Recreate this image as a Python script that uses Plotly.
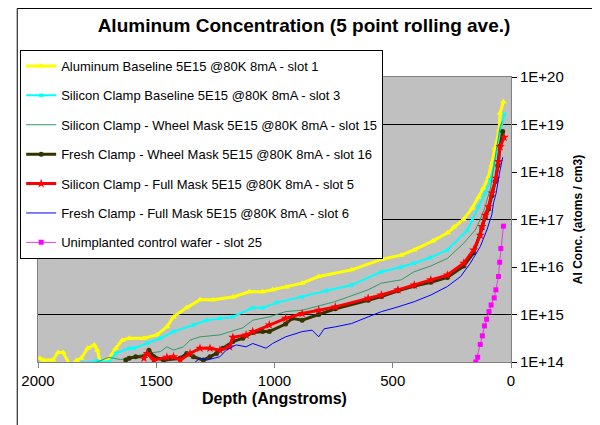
import plotly.graph_objects as go

# depth (Angstroms) and log10 of Al concentration (atoms / cm3)
yellow_depth = [32, 46, 50, 67, 81, 95, 117, 137, 164, 201, 242, 268, 330, 410, 464, 548, 674, 813, 883, 950,
                1008, 1050, 1106, 1176, 1259, 1315, 1372, 1427, 1455, 1497, 1552, 1615, 1644, 1671, 1699, 1720,
                1735, 1749, 1762, 1790, 1817, 1838, 1860, 1894, 1915, 1937, 1979, 1992]
yellow_log = [19.48, 19.24, 18.88, 18.5, 18.15, 17.9, 17.66, 17.47, 17.24, 17.0, 16.84, 16.72, 16.55, 16.36, 16.25,
              16.16, 15.94, 15.8, 15.66, 15.58, 15.52, 15.48, 15.48, 15.37, 15.31, 15.31, 15.14, 14.95, 14.74,
              14.57, 14.5, 14.5, 14.46, 14.29, 14.08, 14.0, 13.95, 14.25, 14.36, 14.29, 14.08, 14.03, 13.9, 14.2,
              14.2, 14.04, 14.04, 14.08]

cyan_depth = [28, 46, 54, 67, 88, 109, 137, 164, 185, 269, 340, 410, 464, 548, 674, 780, 883, 990, 1050, 1092,
              1176, 1231, 1287, 1343, 1427, 1482, 1538, 1594, 1615, 1671, 1699, 1750, 1810]
cyan_log = [19.21, 18.82, 18.53, 18.19, 17.83, 17.56, 17.27, 17.0, 16.77, 16.36, 16.2, 16.08, 16.0, 15.9, 15.62,
            15.5, 15.37, 15.25, 15.14, 15.14, 14.95, 14.92, 14.88, 14.78, 14.64, 14.5, 14.4, 14.29, 14.29, 14.18,
            14.0, 14.02, 13.98]

green_depth = [38, 46, 60, 74, 88, 102, 109, 130, 144, 151, 200, 269, 340, 410, 464, 548, 604, 675, 745, 883,
               954, 1022, 1092, 1134, 1231, 1315, 1357, 1385, 1427, 1455, 1482, 1538, 1594, 1650, 1700, 1750, 1800]
green_log = [19.06, 18.95, 18.53, 18.04, 17.62, 17.41, 17.27, 17.0, 16.85, 16.78, 16.5, 16.18, 16.02, 15.9, 15.73,
             15.66, 15.52, 15.4, 15.27, 15.09, 15.06, 14.95, 14.88, 14.72, 14.57, 14.53, 14.46, 14.32, 14.25, 14.32,
             14.22, 14.18, 14.11, 14.05, 14.1, 14.0, 13.95]

olive_depth = [35, 46, 56, 67, 81, 95, 109, 123, 158, 200, 269, 339, 409, 478, 548, 604, 743, 813, 883, 925, 953,
               1022, 1050, 1092, 1134, 1176, 1218, 1245, 1273, 1301, 1343, 1371, 1399, 1469, 1510, 1531, 1552,
               1587, 1615, 1629]
olive_log = [18.85, 18.55, 18.13, 17.8, 17.5, 17.22, 17.05, 16.82, 16.3, 16.02, 15.78, 15.68, 15.6, 15.5, 15.38,
             15.3, 15.12, 15.0, 14.88, 14.92, 14.8, 14.64, 14.64, 14.62, 14.5, 14.43, 14.29, 14.18, 14.11, 14.04,
             14.11, 14.18, 14.08, 14.04, 14.11, 14.25, 14.11, 14.11, 14.08, 14.04]

red_depth = [29, 46, 53, 63, 81, 95, 109, 123, 130, 158, 200, 269, 339, 409, 478, 548, 604, 743, 813, 883, 953,
             1022, 1092, 1120, 1176, 1190, 1231, 1273, 1315, 1357, 1399, 1427, 1455, 1510, 1538, 1552]
red_log = [18.73, 18.53, 18.22, 17.87, 17.56, 17.27, 17.09, 16.85, 16.67, 16.36, 16.08, 15.83, 15.73, 15.62, 15.52,
           15.41, 15.34, 15.16, 15.09, 15.02, 14.92, 14.78, 14.64, 14.57, 14.52, 14.32, 14.25, 14.29, 14.29, 14.18,
           14.04, 14.11, 14.1, 14.04, 14.18, 14.08]

blue_depth = [35, 49, 63, 74, 81, 102, 130, 172, 213, 269, 339, 409, 478, 548, 604, 674, 743, 790, 813, 841, 883,
              953, 1008, 1036, 1092, 1120, 1162, 1204, 1231, 1287, 1315, 1340]
blue_log = [18.31, 17.97, 17.55, 17.35, 17.1, 16.78, 16.43, 16.08, 15.8, 15.59, 15.41, 15.27, 15.16, 15.06, 14.95,
            14.81, 14.74, 14.7, 14.53, 14.67, 14.64, 14.53, 14.39, 14.29, 14.39, 14.32, 14.36, 14.25, 14.11, 14.04,
            14.08, 13.98]

magenta_depth = [32, 43, 48, 53, 64, 71, 84, 93, 103, 112, 121, 130, 141, 149]
magenta_log = [16.86, 16.39, 16.1, 15.8, 15.52, 15.35, 15.2, 15.06, 14.9, 14.76, 14.55, 14.37, 14.1, 14.0]

series_names = [
    "Aluminum Baseline 5E15 @80K 8mA - slot 1",
    "Silicon Clamp Baseline 5E15 @80K 8mA - slot 3",
    "Silicon Clamp - Wheel Mask 5E15 @80K 8mA - slot 15",
    "Fresh Clamp - Wheel Mask 5E15 @80K 8mA - slot 16",
    "Silicon Clamp - Full Mask 5E15 @80K 8mA - slot 5",
    "Fresh Clamp - Full Mask 5E15 @80K 8mA - slot 6",
    "Unimplanted control wafer - slot 25",
]

y_tick_exponents = [14, 15, 16, 17, 18, 19, 20]
y_tick_labels = ["1E+14", "1E+15", "1E+16", "1E+17", "1E+18", "1E+19", "1E+20"]
y_grid_exponents = [15, 17, 19]
x_ticks = [0, 500, 1000, 1500, 2000]

FONT = "Liberation Sans, Arial, sans-serif"

styles = [
    dict(mode="lines+markers", line=dict(color="#FFFF00", width=3),
         marker=dict(symbol="triangle-up", size=6, color="#FFFF00")),
    dict(mode="lines+markers", line=dict(color="#00FFFF", width=2),
         marker=dict(symbol="x", size=4, color="#00FFFF")),
    dict(mode="lines", line=dict(color="#339966", width=1)),
    dict(mode="lines+markers", line=dict(color="#333300", width=3),
         marker=dict(symbol="circle", size=5, color="#333300")),
    dict(mode="lines+markers", line=dict(color="#FF0000", width=3),
         marker=dict(symbol="star", size=7, color="#FF0000")),
    dict(mode="lines", line=dict(color="#0000FF", width=1)),
    dict(mode="lines+markers", line=dict(color="#E040E0", width=1),
         marker=dict(symbol="square", size=5, color="#FF00FF")),
]

data = [
    (yellow_depth, yellow_log),
    (cyan_depth, cyan_log),
    (green_depth, green_log),
    (olive_depth, olive_log),
    (red_depth, red_log),
    (blue_depth, blue_log),
    (magenta_depth, magenta_log),
]

fig = go.Figure()
for i, ((d, lg), name, st) in enumerate(zip(data, series_names, styles)):
    fig.add_trace(go.Scatter(x=d, y=[10.0 ** v for v in lg], name=name, legendgroup=f"g{i}",
                             cliponaxis=True, **st))

# invisible trace so the gridline overlay axis is drawn
fig.add_trace(go.Scatter(x=[1000], y=[1e17], yaxis="y2", mode="markers", marker=dict(opacity=0),
                         showlegend=False, hoverinfo="skip"))

fig.update_layout(
    width=592, height=417,
    margin=dict(l=25, r=89, t=69, b=63),
    paper_bgcolor="white",
    plot_bgcolor="#C0C0C0",
    font=dict(family=FONT, size=15, color="black"),
    title=dict(text="<b>Aluminum Concentration (5 point rolling ave.)</b>", x=0.5, xanchor="center",
               y=0.959, yanchor="middle", font=dict(size=19, family=FONT)),
    showlegend=True,
    legend=dict(x=-0.0377, y=1.0947, xanchor="left", yanchor="top", bgcolor="white",
                bordercolor="black", borderwidth=1, font=dict(size=13, family=FONT),
                traceorder="grouped", tracegroupgap=9.5, itemwidth=30, maxheight=400),
    xaxis=dict(range=[2000, 0], tickvals=x_ticks, ticks="outside", ticklen=5, tickcolor="#808080",
               showgrid=False, zeroline=False, showline=True, linecolor="#808080", mirror=True,
               tickfont=dict(size=15),
               title=dict(text="<b>Depth (Angstroms)</b>", standoff=4, font=dict(size=16))),
    yaxis=dict(type="log", range=[14, 20], side="right", tickvals=[10.0 ** e for e in y_tick_exponents],
               ticktext=y_tick_labels, ticks="outside", ticklen=5, tickcolor="black",
               showgrid=False, zeroline=False, showline=True, linecolor="#808080", mirror=True,
               tickfont=dict(size=15),
               title=dict(text="<b>Al Conc. (atoms / cm3)</b>", standoff=10, font=dict(size=12))),
    yaxis2=dict(type="log", range=[14, 20], overlaying="y", side="right",
                tickvals=[10.0 ** e for e in y_grid_exponents], showticklabels=False, ticks="",
                showgrid=True, gridcolor="black", gridwidth=1, zeroline=False, showline=False),
    shapes=[dict(type="rect", xref="paper", yref="paper", x0=-0.0439, x1=1.3, y0=-0.3, y1=1.2404,
                 line=dict(color="black", width=1), fillcolor="rgba(0,0,0,0)", layer="below")],
)

fig.write_html("out.html")
